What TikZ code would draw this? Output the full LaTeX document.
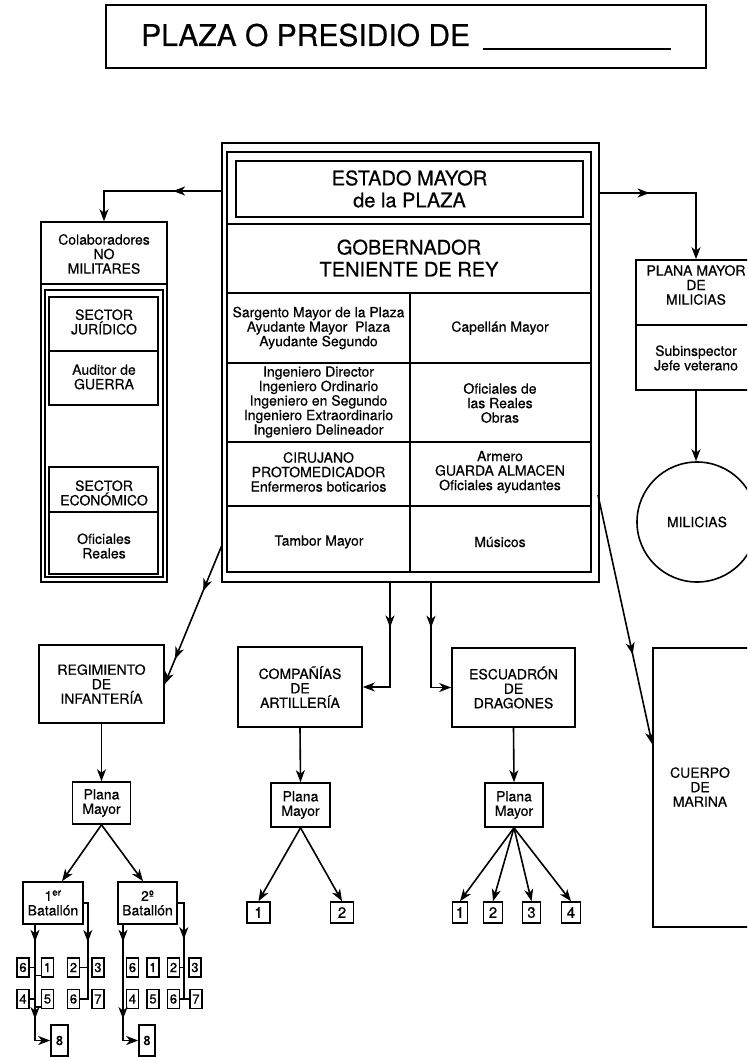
\documentclass[tikz,border=0pt]{standalone}
\usepackage{fontspec}
\setmainfont{TeX Gyre Heros}[FakeBold=0.45]
\usetikzlibrary{arrows.meta,decorations.markings,calc}
\tikzset{
  ln/.style={line width=1.6pt},
  arr/.style={ln,-{Stealth[length=12pt,width=9pt,inset=3.5pt]}},
  mk/.style={postaction={decorate,decoration={markings,mark=at position #1 with {\arrow{Stealth[length=12pt,width=9pt,inset=3.5pt]}}}}},
  bx/.style={draw,line width=1.6pt,inner sep=0pt,align=center},
  txt/.style={font=\fontsize{14}{14.5}\selectfont,align=center,inner sep=0pt},
  big/.style={font=\fontsize{20}{22}\selectfont,align=center,inner sep=0pt},
  sn/.style={bx,font=\fontsize{13}{13}\selectfont,minimum width=12pt,minimum height=19pt},
  an/.style={bx,font=\fontsize{15}{15}\selectfont,minimum height=21pt},
}
\begin{document}
\begin{tikzpicture}[x=1pt,y=-1pt]
\useasboundingbox (0,0) rectangle (747,1057);
\clip (0,0) rectangle (747,1057);
\fill[white] (0,0) rectangle (747,1057);

% title
\node[bx,minimum width=600pt,minimum height=63pt] (titlebox) at (406,36.5) {};
\node[font=\fontsize{30}{30}\selectfont,anchor=base west,inner sep=0pt] (title) at (141,46) {PLAZA O PRESIDIO DE};
\draw[ln] (483,49) -- (671,49);

% central block
\node[bx,minimum width=377pt,minimum height=439pt] (outer) at (410.5,362.5) {};
\node[bx,minimum width=364pt,minimum height=420pt] (inner) at (409,362) {};
\node[bx,minimum width=347pt,minimum height=56pt] (estado) at (409.5,189) {};
\node[big] (estadot) at (409.5,189) {ESTADO MAYOR\\de la PLAZA};
\draw[ln] (227,224) -- (591,224);
\node[big] (gob) at (409,258) {GOBERNADOR\\TENIENTE DE REY};
\draw[ln] (227,293) -- (591,293);
\draw[ln] (227,363) -- (591,363);
\draw[ln] (227,442) -- (591,442);
\draw[ln] (227,506) -- (591,506);
\draw[ln] (410,293) -- (410,572);
\node[txt] (c1l) at (318.5,328) {Sargento Mayor de la Plaza\\Ayudante Mayor\ \ Plaza\\Ayudante Segundo};
\node[txt] (c1r) at (500,328) {Capellán Mayor};
\node[txt] (c2l) at (318.5,402) {Ingeniero Director\\Ingeniero Ordinario\\Ingeniero en Segundo\\Ingeniero Extraordinario\\Ingeniero Delineador};
\node[txt] (c2r) at (500,403) {Oficiales de\\las Reales\\Obras};
\node[txt] (c3l) at (318.5,472) {CIRUJANO\\PROTOMEDICADOR\\Enfermeros boticarios};
\node[txt] (c3r) at (500,472) {Armero\\GUARDA ALMACEN\\Oficiales ayudantes};
\node[txt] (c4l) at (319,542) {Tambor Mayor};
\node[txt] (c4r) at (500,542) {Músicos};

% left column
\node[bx,minimum width=126pt,minimum height=360pt] (colab) at (104,402) {};
\draw[ln] (41,284) -- (167,284);
\node[bx,minimum width=118pt,minimum height=287pt] (nomil) at (104,433.5) {};
\node[txt] (colabt) at (104,254) {Colaboradores\\NO\\MILITARES};
\node[bx,minimum width=109pt,minimum height=108pt] (jur) at (103.5,351) {};
\draw[ln] (jur.west) -- (jur.east);
\node[txt] (jurt) at (104,322) {SECTOR\\JURÍDICO};
\node[txt] (aud) at (104,377) {Auditor de\\GUERRA};
\node[bx,minimum width=109pt,minimum height=107pt] (eco) at (103.5,520.5) {};
\draw[ln] (49,512) -- (158,512);
\node[txt] (ecot) at (104,493) {SECTOR\\ECONÓMICO};
\node[txt] (ofr) at (104,546) {Oficiales\\Reales};
\coordinate (aL) at (222,191);
\draw[arr,mk=0.33] (aL) -| (colab.north);

% right column
\node[bx,minimum width=120pt,minimum height=130pt] (pmm) at (696,325) {};
\draw[ln] (pmm.west) -- (pmm.east);
\node[txt] (pmmt) at (696,285) {PLANA MAYOR\\DE\\MILICIAS};
\node[txt] (subi) at (696,358) {Subinspector\\Jefe veterano};
\coordinate (aR) at (599,193);
\draw[arr,mk=0.31] (aR) -| (pmm.north);
\node[draw,ln,circle,minimum size=120pt,inner sep=0pt,txt] (mil) at (697,522) {MILICIAS};
\draw[arr] (pmm.south) -- (pmm.south |- mil.north);

\node[bx,minimum width=110pt,minimum height=279pt] (marina) at (708,787.5) {};
\node[txt] (marinat) at (700,787) {CUERPO\\DE\\MARINA};
\coordinate (aM) at (598,495);
\draw[arr,mk=0.64] (aM) -- ([yshift=-97pt]marina.north west);

% infantry
\node[bx,txt,minimum width=125pt,minimum height=78pt] (reg) at (101.5,684) {REGIMIENTO\\DE\\INFANTERÍA};
\coordinate (aI) at (222,545);
\draw[arr,mk=0.33,mk=0.82] (aI) -- (reg.east);
\node[bx,txt,minimum width=58pt,minimum height=42pt] (pi) at (101.5,803) {Plana\\Mayor};
\draw[arr] (reg.south) -- (pi.north);
\node[bx,txt,minimum width=60pt,minimum height=42pt] (b1) at (53,903) {1\textsuperscript{er}\\Batallón};
\node[bx,txt,minimum width=59pt,minimum height=42pt] (b2) at (147.5,903) {2º\\Batallón};
\draw[arr] (pi.south) -- ([xshift=9pt]b1.north);
\draw[arr] (pi.south) -- ([xshift=-4.5pt]b2.north);

% 1er batallon companies
\node[sn] (p6a) at (23,967.5) {6};
\node[sn] (p1a) at (47.5,967.5) {1};
\node[sn] (p2a) at (73.5,967.5) {2};
\node[sn] (p3a) at (98,967.5) {3};
\node[sn] (p4a) at (23,999) {4};
\node[sn] (p5a) at (47.5,999) {5};
\node[sn] (p6b) at (73.5,999) {6};
\node[sn] (p7a) at (98,999) {7};
\node[bx,font=\fontsize{13}{13}\selectfont,minimum width=17pt,minimum height=31pt] (e1) at (59.5,1040.5) {8};
\draw[arr,mk=0.13,mk=0.72] ([xshift=-18pt]b1.south) |- (e1.west);
\draw[ln,mk=0.40] (b1.east) -- ++(4,0) |- (p6b.east);
\draw[ln] (p2a.east) -- ++(7.5,0);
\draw[ln] (p6a.east) -- ++(6,0);
\draw[ln] ([yshift=-8pt]p1a.west) -- ++(-6.5,0);
\draw[ln] (p4a.east) -- ++(6,0);
\draw[ln] ([yshift=-8pt]p5a.west) -- ++(-6.5,0);

% 2o batallon companies
\node[sn] (q6a) at (132.5,967.5) {6};
\node[sn] (q1a) at (153,967.5) {1};
\node[sn] (q2a) at (173.5,967.5) {2};
\node[sn] (q3a) at (195,967.5) {3};
\node[sn] (q4a) at (132.5,999) {4};
\node[sn] (q5a) at (153,999) {5};
\node[sn] (q6b) at (173.5,999) {6};
\node[sn] (q7a) at (196,999) {7};
\node[bx,font=\fontsize{13}{13}\selectfont,minimum width=16pt,minimum height=31pt] (e2) at (147,1040.5) {8};
\draw[arr,mk=0.13,mk=0.72] ([xshift=-24.5pt]b2.south) |- (e2.west);
\draw[ln,mk=0.40] (b2.east) -- ++(6,0) |- (q6b.east);
\draw[ln] (q2a.east) -- ++(4,0);
\draw[ln] (q7a.west) -- ++(-6,0);

% artillery and dragoons
\node[bx,txt,minimum width=124pt,minimum height=80pt] (comp) at (300,687) {COMPAÑÍAS\\DE\\ARTILLERÍA};
\node[bx,txt,minimum width=123pt,minimum height=79pt] (esc) at (513.5,687.5) {ESCUADRÓN\\DE\\DRAGONES};
\draw[arr,mk=0.34] ([xshift=-20.5pt]outer.south) |- (comp.east);
\draw[arr,mk=0.36] ([xshift=20.5pt]outer.south) |- (esc.west);
\node[bx,txt,minimum width=59pt,minimum height=44pt] (pa) at (300.5,805) {Plana\\Mayor};
\draw[arr] (comp.south) -- (pa.north);
\node[an,minimum width=23pt] (a1) at (258.5,912.5) {1};
\node[an,minimum width=23pt] (a2) at (342,912.5) {2};
\draw[arr] (pa.south) -- (a1.north);
\draw[arr] (pa.south) -- (a2.north);
\node[bx,txt,minimum width=58pt,minimum height=44pt] (pd) at (514,805) {Plana\\Mayor};
\draw[arr] (esc.south) -- (pd.north);
\node[an,minimum width=15pt] (d1) at (460,912.5) {1};
\node[an,minimum width=19pt] (d2) at (493,912.5) {2};
\node[an,minimum width=18pt] (d3) at (531.5,912.5) {3};
\node[an,minimum width=19pt] (d4) at (571,912.5) {4};
\draw[arr] (pd.south) -- (d1.north);
\draw[arr] (pd.south) -- (d2.north);
\draw[arr] (pd.south) -- (d3.north);
\draw[arr] (pd.south) -- (d4.north);
\end{tikzpicture}
\end{document}
